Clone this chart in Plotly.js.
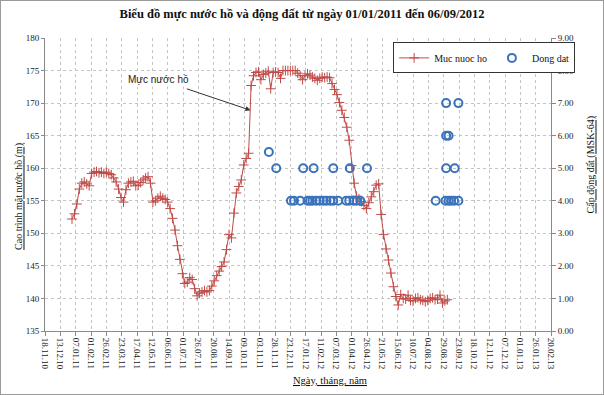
<!DOCTYPE html>
<html>
<head>
<meta charset="utf-8">
<script src="https://cdn.plot.ly/plotly-3.0.1.min.js"></script>
<style>
html,body{margin:0;padding:0;background:#fff;}
#chart{width:604px;height:395px;}
#frame{position:absolute;left:0;top:0;width:604px;height:395px;box-sizing:border-box;border:1px solid #9a9a9a;pointer-events:none;}
</style>
</head>
<body>
<div id="chart"></div>
<div id="frame"></div>
<script>
// ---- data ----
const xTickLabels = ['18.11.10','13.12.10','07.01.11','01.02.11','26.02.11','23.03.11','17.04.11','12.05.11','06.06.11','01.07.11','26.07.11','20.08.11','14.09.11','09.10.11','03.11.11','28.11.11','23.12.11','17.01.12','11.02.12','07.03.12','01.04.12','26.04.12','21.05.12','15.06.12','10.07.12','04.08.12','29.08.12','23.09.12','18.10.12','12.11.12','07.12.12','01.01.13','26.01.13','20.02.13'];

// water level readings, one every 4 days starting 01/01/2011
const levelStart = '2011-01-01';
const levelStepDays = 4;
const levelValues = [
152.2,153.0,154.5,156.8,157.7,157.9,157.6,157.3,159.2,159.4,
159.5,159.3,159.4,159.2,159.4,159.2,159.0,158.5,157.9,156.8,
155.5,154.8,156.7,157.7,157.9,158.0,157.3,157.4,157.8,158.2,
158.5,158.7,157.7,154.8,155.0,155.4,155.7,155.4,155.2,154.8,
153.8,152.3,150.5,148.1,146.0,143.8,142.3,142.5,143.2,142.9,
141.5,140.4,140.8,141.0,141.2,141.0,141.2,141.9,142.7,143.5,
144.2,144.9,145.6,147.5,149.8,149.3,153.1,156.2,157.2,158.2,
160.5,161.5,162.3,172.7,174.2,174.7,174.8,173.6,174.4,174.6,
174.9,172.2,174.7,174.8,174.7,173.8,175.0,175.0,175.0,175.0,
175.0,175.0,174.6,174.2,173.6,174.2,174.5,174.3,174.0,173.8,
173.5,173.8,174.0,173.9,174.0,173.9,173.0,172.1,171.3,170.1,
168.9,167.8,166.3,164.3,160.4,157.7,155.7,155.3,154.9,154.3,
153.8,154.7,155.6,156.4,157.4,157.6,152.9,149.8,147.6,145.9,
143.9,141.8,140.3,139.0,140.6,140.0,139.9,140.5,139.7,139.6,
140.0,140.1,139.8,139.7,139.5,139.7,140.0,140.1,139.8,139.9,
140.5,139.3,139.6,139.8
];

const quakeDates = ['2011-11-18','2011-11-30','2011-12-24','2011-12-29','2012-01-08','2012-01-13','2012-01-20','2012-01-24','2012-01-28','2012-01-30','2012-02-03','2012-02-09','2012-02-15','2012-02-20','2012-02-26','2012-03-02','2012-03-02','2012-03-10','2012-03-23','2012-03-28','2012-03-29','2012-04-04','2012-04-09','2012-04-15','2012-04-26','2012-08-16','2012-09-01','2012-09-02','2012-09-02','2012-09-02','2012-09-06','2012-09-06','2012-09-10','2012-09-15','2012-09-16','2012-09-22','2012-09-22'];
const quakeLevels = [5.5,5.0,4.0,4.0,4.0,5.0,4.0,4.0,4.0,5.0,4.0,4.0,4.0,4.0,4.0,4.0,5.0,4.0,4.0,4.0,5.0,4.0,4.0,4.0,5.0,4.0,4.0,5.0,6.0,7.0,4.0,6.0,4.0,4.0,5.0,4.0,7.0];

const titleText = 'Biểu đồ mực nước hồ và động đất từ ngày 01/01/2011 đến 06/09/2012';
const yTitle = 'Cao trình mặt nước hồ (m)';
const y2Title = 'Cấp động đất (MSK-64)';
const xTitle = 'Ngày, tháng, năm';
const seriesNames = ['Muc nuoc ho', 'Dong dat'];
const noteText = 'Mực nước hồ';
const noteDate = '2011-10-19';
const noteValue = 168.9;

// ---- build ----
function labelToIso(s){ const p = s.split('.'); return '20'+p[2]+'-'+p[1]+'-'+p[0]; }
const tickVals = xTickLabels.map(labelToIso);
const startMs = Date.parse(levelStart+'T00:00:00Z');
const levelDates = levelValues.map((v,i)=> new Date(startMs + i*levelStepDays*86400000).toISOString().slice(0,10));

const serif = 'Liberation Serif, Times New Roman, serif';
const red = '#bf4a47';
const blue = '#3a73bb';

const traces = [
  {x: levelDates, y: levelValues, name: seriesNames[0], type: 'scatter', mode: 'lines+markers',
   line: {color: red, width: 1}, marker: {symbol: 'cross-thin', size: 7, line: {color: red, width: 1}, color: red}},
  {x: quakeDates, y: quakeLevels, name: seriesNames[1], type: 'scatter', mode: 'markers', yaxis: 'y2',
   marker: {symbol: 'circle-open', size: 8, color: blue, line: {color: blue, width: 2}}}
];

const gridCol = '#c4c4c4';
const layout = {
  width: 604, height: 395,
  margin: {l: 45, r: 53, t: 38, b: 64},
  paper_bgcolor: '#fff', plot_bgcolor: '#fff',
  font: {family: serif, size: 10, color: '#222'},
  title: {text: '<b>'+titleText+'</b>', x: 0.5, xref: 'container', y: 0.965, yref: 'container', yanchor: 'middle',
          font: {family: serif, size: 12.5, color: '#111'}},
  showlegend: true,
  legend: {orientation: 'h', x: 0.688, y: 0.985, xanchor: 'left', yanchor: 'top',
           bgcolor: '#fff', bordercolor: '#333', borderwidth: 1,
           font: {family: serif, size: 10, color: '#111'}, itemwidth: 30, tracegroupgap: 0},
  xaxis: {type: 'date', range: [tickVals[0], tickVals[tickVals.length-1]], tickmode: 'array',
          tickvals: tickVals, ticktext: xTickLabels, tickangle: 90,
          tickfont: {family: serif, size: 9, color: '#222'},
          showgrid: true, gridcolor: gridCol, griddash: 'dot', gridwidth: 1,
          showline: true, linecolor: '#8a8a8a', linewidth: 1, ticks: 'outside', ticklen: 4, tickcolor: '#8a8a8a',
          zeroline: false, fixedrange: true},
  yaxis: {range: [135, 180], dtick: 5, tick0: 135, showgrid: true, gridcolor: gridCol, griddash: 'dot',
          showline: true, linecolor: '#8a8a8a', ticks: 'outside', ticklen: 3, tickcolor: '#8a8a8a',
          tickfont: {family: serif, size: 9, color: '#222'}, zeroline: false, automargin: false},
  yaxis2: {range: [0, 9], dtick: 1, tick0: 0, overlaying: 'y', side: 'right', tickformat: '.2f',
           showgrid: false, showline: true, linecolor: '#8a8a8a', ticks: 'outside', ticklen: 4, tickcolor: '#8a8a8a',
           tickfont: {family: serif, size: 9, color: '#222'}, zeroline: false, automargin: false},
  annotations: [
    {text: '<u>'+yTitle+'</u>', xref: 'paper', yref: 'paper', x: -0.05, y: 0.46, textangle: -90, showarrow: false,
     xanchor: 'center', yanchor: 'middle', font: {family: serif, size: 10, color: '#111'}},
    {text: '<u>'+y2Title+'</u>', xref: 'paper', yref: 'paper', x: 1.08, y: 0.57, textangle: -90, showarrow: false,
     xanchor: 'center', yanchor: 'middle', font: {family: serif, size: 10, color: '#111'}},
    {text: '<u>'+xTitle+'</u>', xref: 'paper', yref: 'paper', x: 0.563, y: -0.17, showarrow: false,
     xanchor: 'center', yanchor: 'middle', font: {family: serif, size: 10.5, color: '#111'}},
    {text: noteText, xref: 'x', yref: 'y', x: noteDate, y: noteValue, ax: -92, ay: -31,
     showarrow: true, arrowhead: 2, arrowsize: 1, arrowwidth: 1, arrowcolor: '#333', standoff: 0, startstandoff: 8,
     bgcolor: '#fff', font: {family: 'Liberation Sans, Arial, sans-serif', size: 10, color: '#222'}}
  ]
};

Plotly.newPlot('chart', traces, layout, {staticPlot: true, displayModeBar: false});
</script>
</body>
</html>
